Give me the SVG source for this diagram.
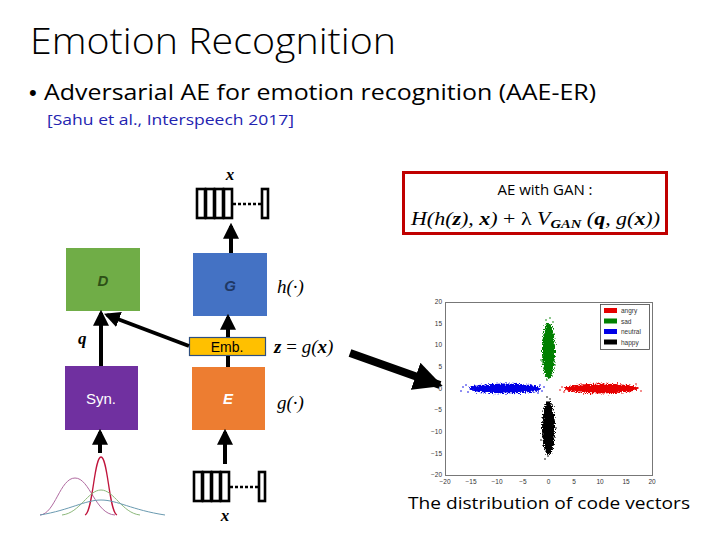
<svg xmlns="http://www.w3.org/2000/svg" width="720" height="540" viewBox="0 0 720 540">
<style>
.sans{font-family:"Liberation Sans","DejaVu Sans",sans-serif}
.light{font-family:"Open Sans","Liberation Sans",sans-serif;font-weight:300}
.os{font-family:"Open Sans","Liberation Sans",sans-serif;font-weight:400}
.math{font-family:"Liberation Serif","DejaVu Serif",serif;font-style:italic}
.vec{fill:#fff;stroke:#000;stroke-width:2.6}
.tick{font-family:"Liberation Sans",sans-serif;font-size:6.5px;fill:#333}
.conn{stroke:#000;stroke-width:4;fill:none}
</style>
<defs>
<marker id="ah" viewBox="0 0 10 10" refX="8" refY="5" markerWidth="4" markerHeight="4" orient="auto" markerUnits="strokeWidth">
<path d="M0,0 L10,5 L0,10 z" fill="#000"/>
</marker>
<marker id="big" viewBox="0 0 10 10" refX="9" refY="5" markerWidth="3.6" markerHeight="3.6" orient="auto" markerUnits="strokeWidth">
<path d="M0,0 L10,5 L0,10 z" fill="#000"/>
</marker>
<filter id="rough" x="-30%" y="-30%" width="160%" height="160%">
<feTurbulence type="fractalNoise" baseFrequency="0.9" numOctaves="2" seed="3"/>
<feDisplacementMap in="SourceGraphic" scale="6" xChannelSelector="R" yChannelSelector="G"/>
</filter>
</defs>
<rect width="720" height="540" fill="#fff"/>

<text class="light" x="30" y="54" font-size="37" fill="#000" textLength="366" lengthAdjust="spacingAndGlyphs">Emotion Recognition</text>
<text class="sans" x="29" y="100" font-size="22" fill="#000">•</text>
<text class="os" x="44" y="100" font-size="22" fill="#000" textLength="552" lengthAdjust="spacingAndGlyphs">Adversarial AE for emotion recognition (AAE-ER)</text>
<text class="os" x="47" y="125" font-size="15" fill="#2323b0" textLength="247" lengthAdjust="spacingAndGlyphs">[Sahu et al., Interspeech 2017]</text>

<!-- top input vector -->
<g id="x_top">
<text class="math" x="230" y="180" font-size="17" font-weight="bold" text-anchor="middle">x</text>
<rect class="vec" x="197" y="189" width="8" height="29"/>
<rect class="vec" x="206" y="189" width="8" height="29"/>
<rect class="vec" x="215" y="189" width="8" height="29"/>
<rect class="vec" x="224" y="189" width="8" height="29"/>
<line x1="233" y1="204" x2="262" y2="204" stroke="#000" stroke-width="2.6" stroke-dasharray="3 2"/>
<rect class="vec" x="262" y="189" width="6" height="29"/>
</g>

<!-- bottom input vector -->
<g id="x_bottom">
<rect class="vec" x="194" y="472" width="8" height="29"/>
<rect class="vec" x="203" y="472" width="8" height="29"/>
<rect class="vec" x="212" y="472" width="8" height="29"/>
<rect class="vec" x="221" y="472" width="8" height="29"/>
<line x1="230" y1="487" x2="259" y2="487" stroke="#000" stroke-width="2.6" stroke-dasharray="3 2"/>
<rect class="vec" x="259" y="472" width="6" height="29"/>
<text class="math" x="225" y="521" font-size="17" font-weight="bold" text-anchor="middle">x</text>
</g>

<g id="D">
<rect x="66" y="248" width="74" height="63" fill="#70ad47"/>
<text class="sans" x="103" y="286" font-size="15" font-style="italic" font-weight="bold" fill="#2d5016" text-anchor="middle">D</text>
</g>
<g id="G">
<rect x="193" y="253" width="74" height="63" fill="#4472c4"/>
<text class="sans" x="230" y="291" font-size="15" font-style="italic" font-weight="bold" fill="#1f3864" text-anchor="middle">G</text>
</g>
<text class="math" x="277" y="293" font-size="19">h(·)</text>
<g id="Emb">
<rect x="189.5" y="337.5" width="76" height="18" fill="#ffc000" stroke="#2f4f7f" stroke-width="1.2"/>
<text class="sans" x="227" y="352" font-size="14" fill="#000" text-anchor="middle">Emb.</text>
</g>
<text class="math" x="274" y="353" font-size="19"><tspan font-weight="bold">z</tspan><tspan font-style="normal"> = </tspan>g(<tspan font-weight="bold">x</tspan>)</text>
<g id="E">
<rect x="192" y="367" width="73" height="63" fill="#ed7d31"/>
<text class="sans" x="228" y="404" font-size="15" font-style="italic" font-weight="bold" fill="#fff" text-anchor="middle">E</text>
</g>
<text class="math" x="277" y="409" font-size="19">g(·)</text>
<g id="Syn">
<rect x="65" y="366" width="73" height="64" fill="#7030a0"/>
<text class="sans" x="101" y="404" font-size="15" fill="#fff" text-anchor="middle">Syn.</text>
</g>
<text class="math" x="78" y="344" font-size="17" font-weight="bold">q</text>

<!-- gaussians -->
<g id="gauss" fill="none" stroke-width="1">
<path d="M40,515 C55,514 60,478 75,478 C90,478 95,514 115,515" stroke="#b06aa0"/>
<path d="M85,515 C93,512 94,457 101,457 C108,457 109,512 117,515" stroke="#c0143c" stroke-width="1.3"/>
<path d="M62,515 C80,513 88,490 101,490 C114,490 122,513 140,515" stroke="#8cb87a"/>
<path d="M40,515 C70,510 85,500 101,500 C117,500 132,510 165,515" stroke="#6a9ab0"/>
</g>

<!-- connectors -->
<g id="connectors">
<line class="conn" x1="231" y1="253" x2="231" y2="226" marker-end="url(#ah)"/>
<line class="conn" x1="228" y1="337" x2="228" y2="317" marker-end="url(#ah)"/>
<line class="conn" x1="228" y1="367" x2="228" y2="356" />
<line class="conn" x1="101" y1="366" x2="101" y2="313" marker-end="url(#ah)"/>
<line class="conn" x1="189" y1="346" x2="107" y2="315" marker-end="url(#ah)"/>
<line class="conn" x1="225" y1="464" x2="225" y2="432" marker-end="url(#ah)"/>
<line class="conn" x1="100" y1="453" x2="100" y2="432" marker-end="url(#ah)"/>
<line x1="350" y1="353" x2="440" y2="385" stroke="#000" stroke-width="8" marker-end="url(#big)"/>
</g>

<!-- formula box -->
<g id="formula">
<rect x="403.5" y="172.5" width="263" height="61" fill="#fff" stroke="#c00000" stroke-width="3"/>
<text class="os" x="545" y="195" font-size="15" text-anchor="middle">AE with GAN :</text>
<text class="math" x="411" y="225" font-size="18" textLength="249" lengthAdjust="spacingAndGlyphs">H(h(<tspan font-weight="bold">z</tspan>), <tspan font-weight="bold">x</tspan>)<tspan font-style="normal"> + λ </tspan>V<tspan font-size="12" font-weight="bold" dy="3">GAN</tspan><tspan dy="-3"> (</tspan><tspan font-weight="bold">q</tspan>, g(<tspan font-weight="bold">x</tspan>))</text>
</g>

<!-- scatter plot -->
<g id="scatter">
<rect x="445.5" y="302.5" width="207" height="173" fill="#fff" stroke="#777" stroke-width="1"/>
<g class="tick" text-anchor="end">
<text x="442" y="304">20</text><text x="442" y="325.5">15</text><text x="442" y="347">10</text>
<text x="442" y="369">5</text><text x="442" y="390.5">0</text><text x="442" y="412">−5</text>
<text x="442" y="434">−10</text><text x="442" y="455.5">−15</text><text x="442" y="477">−20</text>
</g>
<g class="tick" text-anchor="middle">
<text x="445" y="484">−20</text><text x="471" y="484">−15</text><text x="497" y="484">−10</text>
<text x="523" y="484">−5</text><text x="548.5" y="484">0</text><text x="574" y="484">5</text>
<text x="600" y="484">10</text><text x="626" y="484">15</text><text x="652" y="484">20</text>
</g>
<g filter="url(#rough)">
<ellipse cx="505" cy="388.5" rx="36" ry="5" fill="#0000e6"/>
<ellipse cx="601" cy="388.5" rx="37" ry="5" fill="#e60000"/>
<ellipse cx="548.5" cy="351" rx="6.5" ry="28" fill="#008000"/>
<ellipse cx="548.5" cy="428" rx="6.5" ry="27" fill="#000"/>
</g>
<g fill="#0000e6">
<circle cx="461" cy="391" r="0.8"/><circle cx="463" cy="387" r="0.8"/><circle cx="466" cy="385" r="0.8"/>
<circle cx="468" cy="392" r="0.8"/><circle cx="540" cy="385" r="0.8"/><circle cx="542" cy="391" r="0.8"/>
<circle cx="538" cy="393" r="0.8"/><circle cx="544" cy="387" r="0.8"/>
</g>
<g fill="#e60000">
<circle cx="562" cy="387" r="0.8"/><circle cx="564" cy="392" r="0.8"/><circle cx="638" cy="388" r="0.8"/>
<circle cx="641" cy="391" r="0.8"/><circle cx="636" cy="384" r="0.8"/><circle cx="560" cy="390" r="0.8"/>
</g>
<g fill="#008000">
<circle cx="550" cy="318" r="0.8"/><circle cx="546" cy="320" r="0.8"/><circle cx="553" cy="322" r="0.8"/>
<circle cx="555" cy="365" r="0.8"/><circle cx="541" cy="360" r="0.8"/><circle cx="547" cy="380" r="0.8"/>
</g>
<g fill="#000">
<circle cx="547" cy="397" r="0.8"/><circle cx="550" cy="399" r="0.8"/><circle cx="548" cy="456" r="0.8"/>
<circle cx="545" cy="459" r="0.8"/><circle cx="556" cy="428" r="0.8"/><circle cx="541" cy="440" r="0.8"/>
</g>
<g id="legend">
<rect x="600.5" y="304.5" width="49" height="45" fill="#fff" stroke="#444" stroke-width="0.8"/>
<rect x="604" y="308" width="13" height="5" fill="#e60000"/>
<rect x="604" y="318.5" width="13" height="5" fill="#008000"/>
<rect x="604" y="329" width="13" height="5" fill="#0000e6"/>
<rect x="604" y="339.5" width="13" height="5" fill="#000"/>
<g class="tick" font-size="6.5">
<text x="621" y="313">angry</text><text x="621" y="323.5">sad</text>
<text x="621" y="334">neutral</text><text x="621" y="344.5">happy</text>
</g>
</g>
</g>
<text class="os" x="408" y="509" font-size="17" fill="#000" textLength="282" lengthAdjust="spacingAndGlyphs">The distribution of code vectors</text>
</svg>
